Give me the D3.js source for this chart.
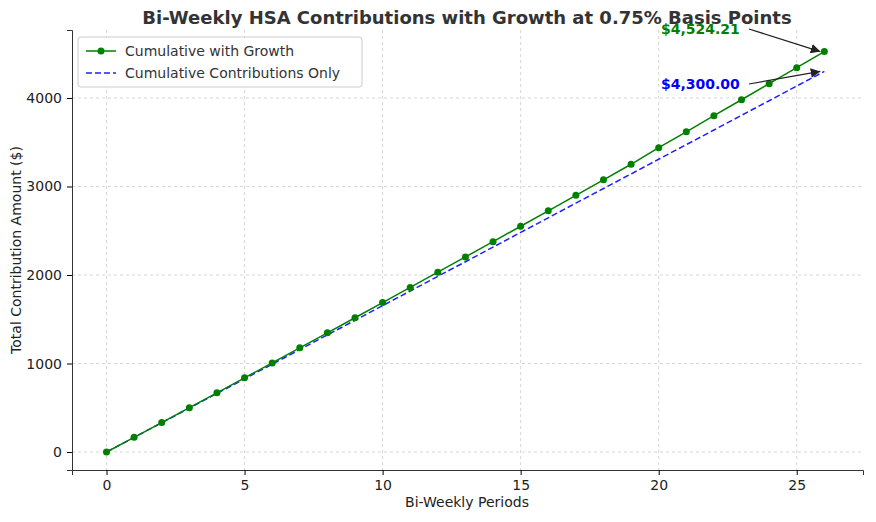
<!DOCTYPE html>
<html><head><meta charset="utf-8">
<script src="https://cdn.jsdelivr.net/npm/d3@7"></script>
<style>body{margin:0;background:#fff;font-family:"DejaVu Sans",sans-serif}</style>
</head><body>
<script>
var periods = d3.range(0, 27);
var withGrowth = [0,166,333,501,669,838,1007,1177,1347,1517,1688,1860,2032,2204,2377,2551,2725,2900,3075,3251,3438,3618,3800,3980,4162,4342,4524.21];
var contribOnly = [0,165,331,496,662,827,992,1158,1323,1488,1654,1819,1985,2150,2315,2481,2646,2812,2977,3142,3308,3473,3638,3804,3969,4135,4300];
var xTicks = [0,5,10,15,20,25];
var yTicks = [0,1000,2000,3000,4000];

var svg = d3.select('body').append('svg').attr('width',876).attr('height',522);
var L=72, R=863, T=30, B=470;
var x = d3.scaleLinear().domain([-1.25,27.4]).range([L,R]);
var y = d3.scaleLinear().domain([-203,4768]).range([B,T]);

// grid
svg.append('g').selectAll('line').data(xTicks).join('line')
    .attr('x1',d=>x(d)).attr('x2',d=>x(d)).attr('y1',T).attr('y2',B)
    .attr('stroke','#ccc').attr('stroke-dasharray','3,3').attr('stroke-width',0.8);
svg.append('g').selectAll('line').data(yTicks).join('line')
    .attr('x1',L).attr('x2',R).attr('y1',d=>y(d)).attr('y2',d=>y(d))
    .attr('stroke','#ccc').attr('stroke-dasharray','3,3').attr('stroke-width',0.8);

var xa = svg.append('g').attr('transform','translate(0,'+B+')')
    .call(d3.axisBottom(x).tickValues(xTicks).tickFormat(d3.format('d')).tickSizeOuter(0).tickSize(5).tickPadding(5));
var ya = svg.append('g').attr('transform','translate('+L+',0)')
    .call(d3.axisLeft(y).tickValues(yTicks).tickFormat(d3.format('d')).tickSizeOuter(0).tickSize(5).tickPadding(5));
[xa,ya].forEach(function(a){
    a.selectAll('text').attr('font-size',14).attr('fill','#222').attr('font-family','DejaVu Sans');
    a.select('.domain').attr('stroke','#333');
});

var line = d3.line().x((d,i)=>x(periods[i])).y(d=>y(d));
svg.append('path').datum(contribOnly).attr('d',line).attr('fill','none')
    .attr('stroke','#1f1fff').attr('stroke-width',1.5).attr('stroke-dasharray','6,3');
svg.append('path').datum(withGrowth).attr('d',line).attr('fill','none')
    .attr('stroke','green').attr('stroke-width',1.5);
svg.append('g').selectAll('circle').data(withGrowth).join('circle')
    .attr('cx',(d,i)=>x(periods[i])).attr('cy',d=>y(d)).attr('r',3.5).attr('fill','green');

// annotations
svg.append('defs').append('marker').attr('id','ah').attr('viewBox','0 0 10 10')
    .attr('refX',10).attr('refY',5).attr('markerWidth',8).attr('markerHeight',8).attr('orient','auto')
    .append('path').attr('d','M0,0L10,5L0,10z').attr('fill','#222');
function annot(txt,col,tx,ty,val){
    svg.append('line').attr('x1',tx+88).attr('y1',ty-5).attr('x2',x(26)-4).attr('y2',y(val))
        .attr('stroke','#222').attr('stroke-width',1.2).attr('marker-end','url(#ah)');
    svg.append('text').attr('x',tx).attr('y',ty).attr('fill',col).attr('font-weight','bold')
        .attr('font-size',14).text(txt);
}
annot('$4,524.21','green',661,34,withGrowth[26]);
annot('$4,300.00','blue',661,89,contribOnly[26]);

svg.append('text').attr('x',467).attr('y',24).attr('text-anchor','middle')
    .attr('font-size',18).attr('font-weight','bold').attr('fill','#333')
    .text('Bi-Weekly HSA Contributions with Growth at 0.75% Basis Points');
svg.append('text').attr('x',467).attr('y',507).attr('text-anchor','middle')
    .attr('font-size',14).attr('fill','#222').text('Bi-Weekly Periods');
svg.append('text').attr('transform','translate(21,250) rotate(-90)').attr('text-anchor','middle')
    .attr('font-size',14).attr('fill','#222').text('Total Contribution Amount ($)');

// legend
var lg = svg.append('g').attr('transform','translate(78,37)');
lg.append('rect').attr('width',284).attr('height',50).attr('rx',3)
    .attr('fill','#fff').attr('fill-opacity',0.85).attr('stroke','#ccc');
lg.append('line').attr('x1',8).attr('x2',38).attr('y1',14).attr('y2',14).attr('stroke','green').attr('stroke-width',1.5);
lg.append('circle').attr('cx',23).attr('cy',14).attr('r',3.5).attr('fill','green');
lg.append('text').attr('x',47).attr('y',19).attr('font-size',14).attr('fill','#333').text('Cumulative with Growth');
lg.append('line').attr('x1',8).attr('x2',38).attr('y1',36).attr('y2',36).attr('stroke','#1f1fff').attr('stroke-width',1.5).attr('stroke-dasharray','6,3');
lg.append('text').attr('x',47).attr('y',41).attr('font-size',14).attr('fill','#333').text('Cumulative Contributions Only');
</script>
</body></html>
